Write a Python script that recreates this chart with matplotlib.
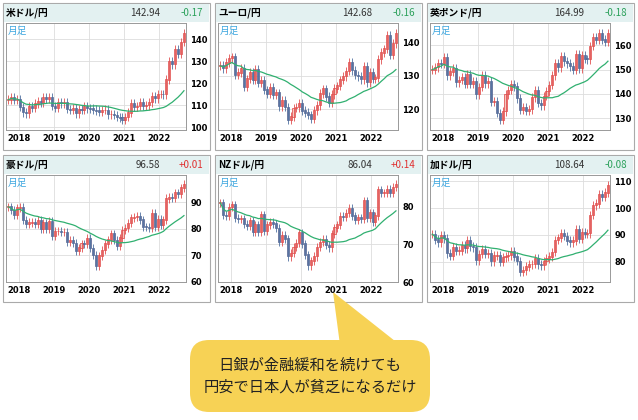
import numpy as np
import pandas as pd
import matplotlib
matplotlib.use('Agg')
import matplotlib.pyplot as plt
from matplotlib.patches import Rectangle, FancyBboxPatch, Polygon

plt.rcParams['font.family'] = ['Noto Sans CJK JP', 'DejaVu Sans']

W, H = 638, 420

# monthly closes, 2017-09 .. 2022-09
months = pd.date_range('2017-09-01', '2022-09-01', freq='MS')

usd = [112.5, 113.6, 112.5, 112.7, 109.2, 106.7, 106.3, 109.3, 108.8, 110.7, 111.9, 111.0, 113.7,
       112.9, 113.5, 109.7, 108.9, 111.4, 110.9, 111.4, 108.3, 107.9, 108.8, 106.3, 108.1, 108.0,
       109.5, 108.6, 108.4, 107.9, 107.5, 106.9, 107.8, 107.9, 105.9, 105.9, 105.5, 104.7, 104.3,
       103.3, 104.7, 106.6, 110.7, 109.3, 109.6, 111.1, 109.7, 110.0, 111.3, 114.0, 113.2, 115.1,
       115.1, 115.0, 121.7, 129.8, 128.7, 135.7, 133.3, 138.9, 142.9]
eur = [133.0, 132.2, 133.9, 135.2, 135.6, 130.2, 130.9, 132.1, 126.7, 129.1, 130.9, 128.9, 131.9,
       127.9, 128.6, 125.8, 124.7, 126.6, 124.4, 124.9, 120.9, 122.7, 120.7, 116.9, 117.9, 120.4,
       120.6, 121.9, 119.6, 119.1, 118.4, 117.2, 119.7, 121.2, 124.7, 126.1, 123.8, 121.9, 124.5,
       126.2, 127.0, 128.8, 129.8, 131.4, 133.9, 131.6, 130.2, 129.8, 129.0, 132.7, 128.1, 130.9,
       129.1, 129.4, 134.9, 136.9, 138.0, 142.0, 136.2, 139.7, 142.7]
gbp = [150.0, 150.9, 152.5, 152.3, 155.2, 147.6, 149.2, 150.6, 144.7, 145.7, 146.9, 144.2, 148.2,
       144.1, 145.0, 139.8, 142.8, 147.6, 144.3, 145.2, 136.7, 137.1, 132.2, 129.3, 132.9, 139.8,
       141.6, 144.1, 143.1, 138.2, 133.5, 134.5, 133.1, 133.7, 138.6, 141.3, 136.2, 135.3, 139.1,
       141.1, 143.6, 147.7, 152.6, 150.9, 155.6, 153.4, 152.6, 151.3, 149.9, 156.1, 150.5, 155.7,
       154.4, 154.2, 159.7, 163.1, 162.2, 165.0, 162.3, 161.4, 165.0]
aud = [88.2, 87.0, 85.3, 87.9, 88.1, 83.1, 81.6, 82.3, 82.3, 81.8, 83.1, 79.9, 82.2,
       79.9, 82.9, 77.3, 79.1, 79.1, 78.6, 78.6, 74.9, 75.7, 74.6, 71.6, 72.9, 74.4,
       74.1, 76.3, 72.6, 70.0, 66.1, 69.9, 71.9, 74.3, 75.8, 78.1, 75.6, 73.6, 76.6,
       79.5, 80.1, 82.1, 84.1, 84.3, 84.6, 83.4, 80.7, 80.5, 80.4, 85.8, 80.7, 83.6,
       81.4, 83.4, 91.3, 91.8, 91.4, 93.5, 93.0, 95.4, 96.6]
nzd = [81.1, 77.8, 77.6, 79.9, 80.6, 77.0, 76.8, 76.9, 75.4, 75.0, 76.3, 73.4, 75.2,
       73.4, 77.9, 73.7, 75.2, 75.9, 75.5, 74.3, 70.6, 72.5, 71.5, 66.8, 67.7, 69.3,
       70.3, 73.1, 70.2, 67.3, 64.4, 65.6, 66.8, 69.3, 70.6, 71.4, 69.8, 69.2, 72.9,
       74.4, 75.2, 77.5, 77.3, 78.3, 79.6, 77.6, 76.4, 77.1, 76.8, 81.6, 77.1, 78.4,
       75.9, 77.6, 84.5, 83.8, 83.8, 84.7, 83.8, 85.2, 86.0]
cad = [90.3, 88.2, 87.3, 89.7, 88.7, 83.2, 82.3, 85.2, 84.1, 84.1, 86.0, 85.0, 87.9,
       85.8, 85.4, 80.5, 82.9, 84.7, 82.9, 83.1, 80.1, 82.3, 82.4, 79.9, 81.6, 82.0,
       82.4, 83.7, 81.9, 80.3, 76.2, 76.8, 78.2, 79.0, 79.1, 81.2, 79.0, 78.6, 80.3,
       81.1, 81.9, 83.6, 88.1, 88.9, 90.7, 89.6, 87.9, 87.2, 87.9, 92.1, 88.6, 91.0,
       90.5, 90.6, 97.4, 101.0, 101.7, 105.3, 104.3, 105.8, 108.6]

names = ['米ドル/円', 'ユーロ/円', '英ポンド/円', '豪ドル/円', 'NZドル/円', '加ドル/円']
prices = ['142.94', '142.68', '164.99', '96.58', '86.04', '108.64']
changes = ['-0.17', '-0.16', '-0.18', '+0.01', '+0.14', '-0.08']
series = [usd, eur, gbp, aud, nzd, cad]
yticks = [[100, 110, 120, 130, 140], [120, 130, 140], [130, 140, 150, 160],
          [60, 70, 80, 90], [60, 70, 80], [80, 90, 100, 110]]
year_labels = ['2018', '2019', '2020', '2021', '2022']

fig = plt.figure(figsize=(W / 100, H / 100), dpi=100)


def fx(px):
    return px / W


def fy(py):
    return 1 - py / H


def draw_panel(i, left, top):
    pw, ph = 207, 147
    closes = np.array(series[i])
    opens = np.r_[closes[0], closes[:-1]]
    wick = (max(closes) - min(closes)) * 0.05
    highs = np.maximum(opens, closes) + wick
    lows = np.minimum(opens, closes) - wick
    ma = pd.Series(closes).rolling(24, min_periods=1).mean().values

    # outer frame and header
    fig.patches.append(Rectangle((fx(left), fy(top + ph)), fx(pw), ph / H, transform=fig.transFigure,
                                 facecolor='white', edgecolor='#aaaaaa', lw=0.8, zorder=0))
    fig.patches.append(Rectangle((fx(left + 1), fy(top + 19)), fx(pw - 2), 18 / H, transform=fig.transFigure,
                                 facecolor='#e3f1f1', edgecolor='none', zorder=0))
    fig.text(fx(left + 3), fy(top + 10), names[i], fontsize=7, fontweight='bold', va='center')
    fig.text(fx(left + 157), fy(top + 10), prices[i], fontsize=7, va='center', ha='right', color='#333333')
    col = '#2aa05a' if changes[i].startswith('-') else '#e03030'
    fig.text(fx(left + 200), fy(top + 10), changes[i], fontsize=7, va='center', ha='right', color=col)

    ax = fig.add_axes([fx(left + 3), fy(top + 127), fx(180), 107 / H])
    ax.set_zorder(3)
    ax.patch.set_facecolor('white')
    x = np.arange(len(closes))
    up = closes >= opens
    ax.vlines(x, lows, highs, color=np.where(up, '#e05050', '#5070a0'), lw=0.6)
    ax.bar(x, np.abs(closes - opens) + 0.15, bottom=np.minimum(opens, closes), width=0.7,
           color=np.where(up, '#f4c8c0', '#7f8fb0'), edgecolor=np.where(up, '#e04040', '#506090'), lw=0.5)
    ax.plot(x, ma, color='#30b070', lw=0.9)

    lo, hi = min(lows), max(highs)
    pad = (hi - lo) * 0.06
    ax.set_ylim(lo - pad, hi + pad)
    ax.set_xlim(-0.8, len(closes) - 0.3)
    year_pos = [list(months).index(pd.Timestamp(f'{y}-01-01')) - 0.5 for y in year_labels]
    ax.set_xticks(year_pos)
    ax.set_xticklabels(year_labels, fontsize=6, fontweight='bold', family='DejaVu Sans')
    ax.set_yticks(yticks[i])
    ax.yaxis.tick_right()
    ax.set_yticklabels([str(t) for t in yticks[i]], fontsize=6, fontweight='bold', family='DejaVu Sans')
    ax.tick_params(length=0, pad=3)
    ax.grid(True, color='#dddddd', lw=0.6)
    ax.set_axisbelow(True)
    for s in ax.spines.values():
        s.set_color('#999999')
        s.set_linewidth(0.7)
    ax.text(0.01, 0.97, '月足', transform=ax.transAxes, fontsize=7, color='#40a8e0', va='top')


lefts = [3, 215, 427]
tops = [3, 155]
for i in range(6):
    draw_panel(i, lefts[i % 3], tops[i // 3])

# speech bubble
bub = '#f7d255'
fig.patches.append(Polygon([(fx(333), fy(292)), (fx(340), fy(345)), (fx(400), fy(345))],
                           closed=True, transform=fig.transFigure, facecolor=bub, edgecolor='none'))
fig.patches.append(FancyBboxPatch((fx(190), fy(412)), fx(240), 72 / H,
                                  boxstyle='round,pad=0,rounding_size=0.03', transform=fig.transFigure,
                                  facecolor=bub, edgecolor='none', mutation_aspect=W / H))
fig.text(fx(310), fy(365), '日銀が金融緩和を続けても', fontsize=11, ha='center', va='center', color='#222222')
fig.text(fx(310), fy(387), '円安で日本人が貧乏になるだけ', fontsize=11, ha='center', va='center', color='#222222')

fig.savefig('out.png', dpi=100)
